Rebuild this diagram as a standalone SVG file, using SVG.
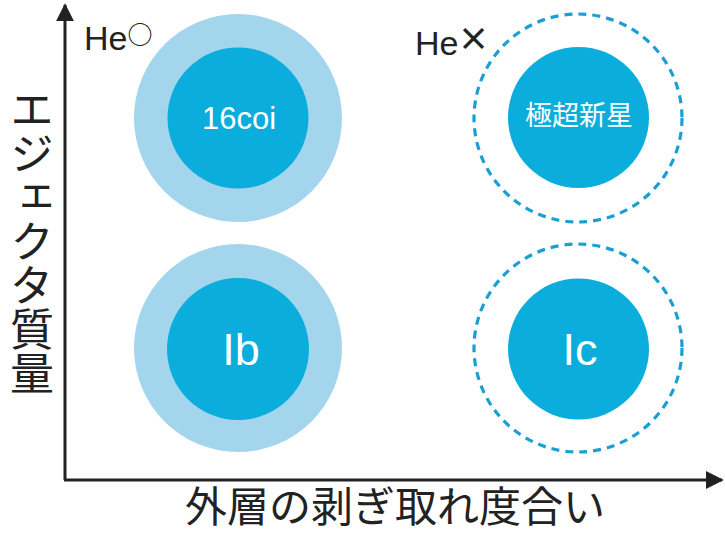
<svg xmlns="http://www.w3.org/2000/svg" width="725" height="535" viewBox="0 0 725 535">
<style>
.outer{fill:#a3d5ed}
.inner{fill:#0aaddb}
.dash{fill:none;stroke:#1a9fd3;stroke-width:3.2;stroke-dasharray:8 6}
.lbl{font-family:"Liberation Sans","Noto Sans CJK JP",sans-serif;fill:#ffffff;text-anchor:middle}
.ax{font-family:"Noto Sans CJK JP",sans-serif;fill:#222}
.he{font-family:"Liberation Sans","Noto Sans CJK JP",sans-serif;fill:#222;font-size:34px}
.sym{font-family:"Noto Sans CJK JP",sans-serif}
</style>
<defs>
<marker id="arr" viewBox="0 0 10 10" refX="9" refY="5" markerWidth="6" markerHeight="6" markerUnits="strokeWidth" orient="auto">
<path d="M0,0 L10,5 L0,10 z" fill="#222"/>
</marker>
</defs>
<g id="connectors">
<path d="M65,480 L65,5" stroke="#222" stroke-width="3" fill="none" marker-end="url(#arr)"/>
<path d="M64,480 L722,480" stroke="#222" stroke-width="3" fill="none" marker-end="url(#arr)"/>
</g>
<g id="n16coi">
<circle class="outer" cx="238" cy="118" r="104"/>
<circle class="inner" cx="238" cy="118" r="70.5"/>
<text class="lbl" x="239" y="129" font-size="31">16coi</text>
</g>
<g id="nHN">
<circle class="dash" cx="578" cy="118" r="104"/>
<circle class="inner" cx="578.5" cy="117.5" r="70.5"/>
<text class="lbl" x="579" y="125" font-size="27">極超新星</text>
</g>
<g id="nIb">
<circle class="outer" cx="238" cy="348" r="104"/>
<circle class="inner" cx="238" cy="349" r="71"/>
<text class="lbl" x="241" y="365" font-size="45">Ib</text>
</g>
<g id="nIc">
<circle class="dash" cx="578" cy="348" r="104"/>
<circle class="inner" cx="578.5" cy="349" r="70.5"/>
<text class="lbl" x="580" y="365" font-size="45">Ic</text>
</g>
<g id="labels">
<text class="he" x="84" y="50">He<tspan class="sym" font-size="25" font-weight="500" dy="-6">○</tspan></text>
<text class="he" x="415" y="55">He<tspan class="sym" font-size="32" font-weight="bold" dx="-1" dy="-4">×</tspan></text>
<text class="ax" x="32" y="87" font-size="44" writing-mode="vertical-rl" style="writing-mode:vertical-rl">エジェクタ質量</text>
<text class="ax" x="395" y="522" font-size="42" text-anchor="middle">外層の剥ぎ取れ度合い</text>
</g>
</svg>
